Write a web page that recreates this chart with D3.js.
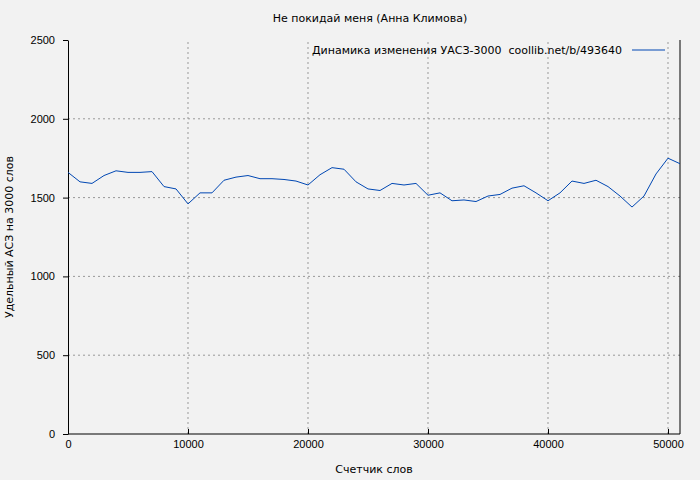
<!DOCTYPE html>
<html><head><meta charset="UTF-8">
<script src="https://d3js.org/d3.v7.min.js"></script>
<style>body{margin:0;background:#f2f2f2}</style>
</head><body>
<svg id="chart" width="700" height="480" font-family="DejaVu Sans, sans-serif" font-size="11"></svg>
<script>
  var words = d3.range(0, 52000, 1000)
  var values = [1660,1600,1590,1640,1670,1660,1660,1665,1570,1555,1460,1530,1530,1610,1630,1640,1620,1620,1615,1605,1580,1645,1690,1680,1600,1555,1545,1590,1580,1590,1515,1530,1480,1485,1475,1510,1520,1560,1575,1530,1480,1530,1605,1590,1610,1570,1510,1440,1510,1650,1750,1715]
  var xTicks = [0,10000,20000,30000,40000,50000]
  var yTicks = [0,500,1000,1500,2000,2500]

  var svg = d3.select('svg')
  var margins = { top: 40, bottom: 46, left: 68, right: 20 }
  var width = +svg.attr("width"), height = +svg.attr("height")

  svg.append('rect').attr('width', width).attr('height', height).attr('fill', '#f2f2f2')

  var x = d3.scaleLinear().domain([0, 51000]).range([margins.left, width - margins.right])
  var y = d3.scaleLinear().domain([0, 2500]).range([height - margins.bottom, margins.top])

  // grid
  svg.append('g').selectAll('line').data(xTicks.slice(1)).join('line')
    .attr('x1', d => x(d)).attr('x2', d => x(d)).attr('y1', y(0)).attr('y2', y(2500))
    .attr('stroke', '#999').attr('stroke-dasharray', '2,3')
  svg.append('g').selectAll('line').data(yTicks.slice(1, -1)).join('line')
    .attr('x1', x(0)).attr('x2', x(51000)).attr('y1', d => y(d)).attr('y2', d => y(d))
    .attr('stroke', '#999').attr('stroke-dasharray', '2,3')

  svg.append('g').attr('transform', 'translate(0,' + y(0) + ')')
    .call(d3.axisBottom(x).tickValues(xTicks).tickSize(-5).tickPadding(6).tickFormat(d3.format('d')))
    .call(g => g.select('.domain').remove())
  svg.append('g').attr('transform', 'translate(' + x(0) + ',0)')
    .call(d3.axisLeft(y).tickValues(yTicks).tickSizeInner(5).tickSizeOuter(0).tickPadding(8).tickFormat(d3.format('d')))
  svg.append('line').attr('x1', x(51000)).attr('x2', x(51000)).attr('y1', y(0)).attr('y2', y(2500)).attr('stroke', '#000')
  svg.append('line').attr('x1', x(0)).attr('x2', x(51000)).attr('y1', y(0)).attr('y2', y(0)).attr('stroke', '#000')
  svg.selectAll('.tick text').attr('font-size', 11).attr('fill', '#000')

  svg.append('path').datum(values)
    .attr('fill', 'none').attr('stroke', '#0047b3').attr('stroke-width', 1)
    .attr('d', d3.line().x((d, i) => x(words[i])).y(d => y(d)))

  svg.append('text').attr('x', 370).attr('y', 22).attr('text-anchor', 'middle').text('Не покидай меня (Анна Климова)')
  svg.append('text').attr('x', 374).attr('y', 473).attr('text-anchor', 'middle').text('Счетчик слов')
  svg.append('text').attr('transform', 'translate(13,237) rotate(-90)').attr('text-anchor', 'middle').text('Удельный АСЗ на 3000 слов')
  svg.append('text').attr('x', 622).attr('y', 54).attr('text-anchor', 'end').attr('xml:space', 'preserve').text('Динамика изменения УАСЗ-3000  coollib.net/b/493640')
  svg.append('line').attr('x1', 632).attr('x2', 665).attr('y1', 50).attr('y2', 50).attr('stroke', '#0047b3')
</script>
</body></html>
